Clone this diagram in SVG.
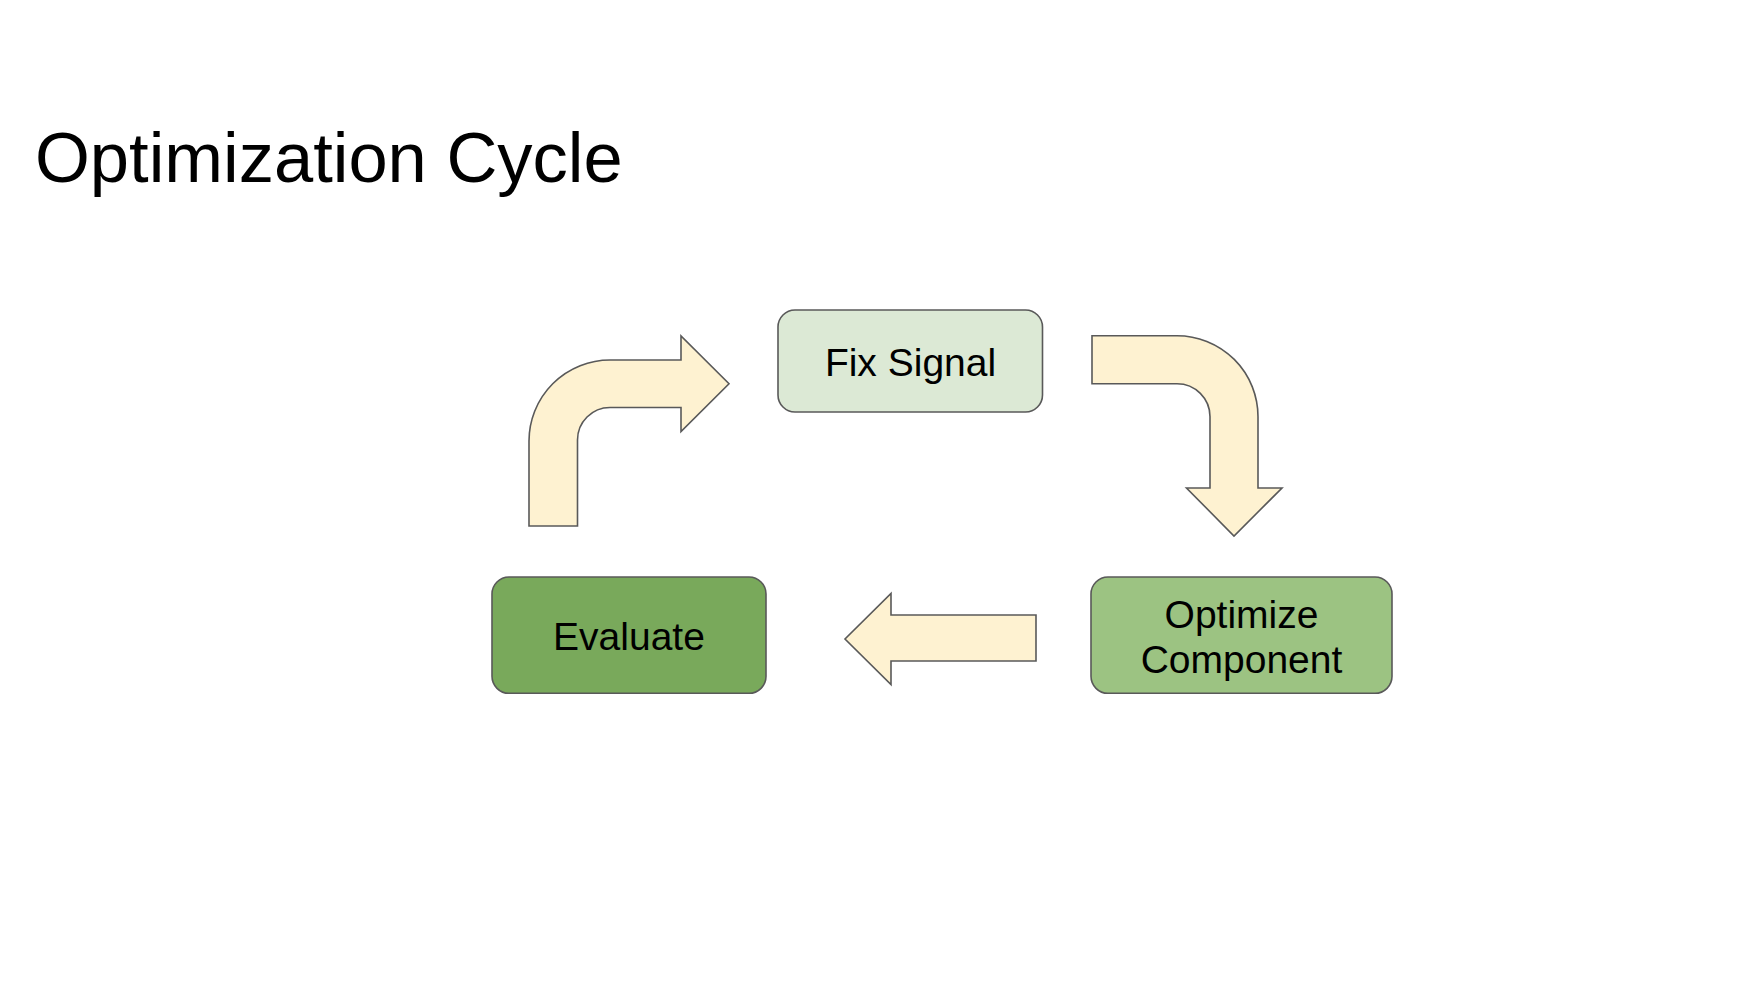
<svg xmlns="http://www.w3.org/2000/svg" width="1754" height="1008" viewBox="0 0 1754 1008">
<style>
.node{stroke:#595959;stroke-width:1.6}
.arrow{fill:#fef2d1;stroke:#595959;stroke-width:1.6;stroke-linejoin:miter}
.lbl{font-family:"Liberation Sans",Arial,sans-serif;font-size:39px;fill:#000;text-anchor:middle}
.title{font-family:"Liberation Sans",Arial,sans-serif;font-size:70.5px;fill:#000}
</style>
<rect width="1754" height="1008" fill="#fff"/>
<text class="title" x="35" y="182">Optimization Cycle</text>
<g id="connectors">
<path id="arrow-eval-fix" class="arrow" d="M529,526 L529,441 A81,81 0 0 1 610,360 L681,360 L681,336 L729,383.75 L681,431.5 L681,407.5 L610,407.5 A32.5,32.5 0 0 0 577.5,440 L577.5,526 Z"/>
<path id="arrow-fix-opt" class="arrow" d="M1092,335.7 L1177,335.7 A81,81 0 0 1 1258,416.7 L1258,488 L1282,488 L1234,536 L1186.5,488 L1210,488 L1210,416.7 A33,33 0 0 0 1177,383.7 L1092,383.7 Z"/>
<path id="arrow-opt-eval" class="arrow" d="M1036,615 L891,615 L891,593.5 L845,639 L891,684.5 L891,661 L1036,661 Z"/>
</g>
<g id="node-fix-signal">
<rect class="node" x="778" y="310" width="264.5" height="102" rx="17" fill="#dce9d5"/>
<text class="lbl" x="910.5" y="376">Fix Signal</text>
</g>
<g id="node-evaluate">
<rect class="node" x="492" y="577" width="274" height="116.3" rx="17" fill="#79a95b"/>
<text class="lbl" x="629" y="650">Evaluate</text>
</g>
<g id="node-optimize">
<rect class="node" x="1091" y="577" width="301" height="116.3" rx="17" fill="#9cc382"/>
<text class="lbl" x="1241.5" y="627.5">Optimize</text>
<text class="lbl" x="1241.5" y="672.5">Component</text>
</g>
</svg>
